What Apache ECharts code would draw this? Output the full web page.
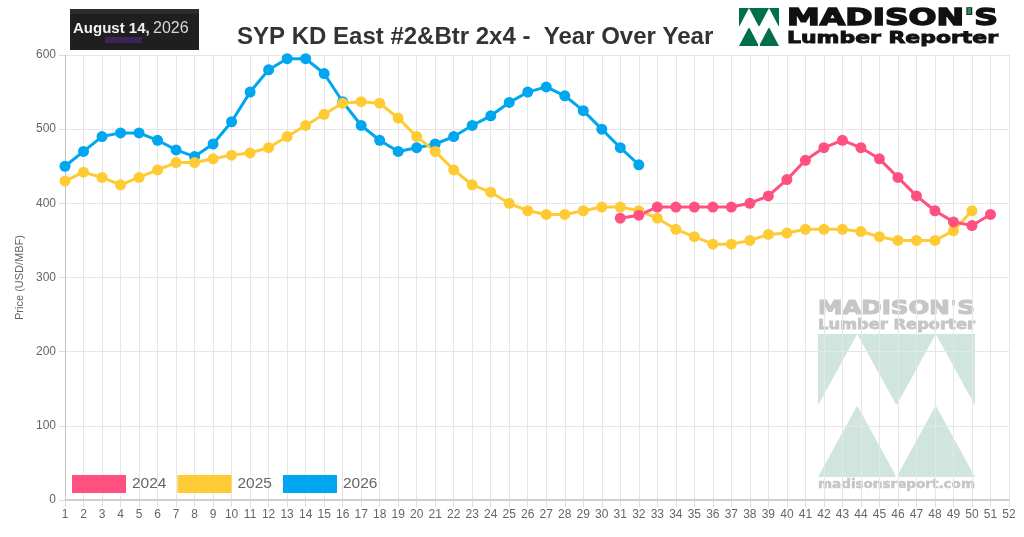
<!DOCTYPE html>
<html>
<head>
<meta charset="utf-8">
<script src="https://cdn.jsdelivr.net/npm/echarts@6/dist/echarts.min.js"></script>
<style>
  html, body { margin: 0; padding: 0; background: #fff; }
  #chart { width: 1024px; height: 537px; }
</style>
</head>
<body>
<div id="chart"></div>
<script>
// week numbers on the x axis
var weeks = [];
for (var w = 1; w <= 52; w++) weeks.push(String(w));

// prices (USD/MBF) per week; null = no data
var p2024 = [null,null,null,null,null,null,null,null,null,null,
             null,null,null,null,null,null,null,null,null,null,
             null,null,null,null,null,null,null,null,null,null,
             380,384,395,395,395,395,395,400,410,432,
             458,475,485,475,460,435,410,390,375,370,
             385,null];
var p2025 = [430,442,435,425,435,445,455,455,460,465,
             468,475,490,505,520,535,537,535,515,490,
             470,445,425,415,400,390,385,385,390,395,
             395,390,380,365,355,345,345,350,358,360,
             365,365,365,362,355,350,350,350,363,390,
             null,null];
var p2026 = [450,470,490,495,495,485,472,463,480,510,
             550,580,595,595,575,537,505,485,470,475,
             480,490,505,518,536,550,557,545,525,500,
             475,452];

var yTicks = [0, 100, 200, 300, 400, 500, 600];

var colors = {'2024': '#ff5080', '2025': '#ffcb35', '2026': '#00a6ef'};

// fit a text to a width by measuring it
var cv = document.createElement('canvas').getContext('2d');
function fitScale(txt, font, width){
    cv.font = font;
    return width / cv.measureText(txt).width;
}

// madison's triangle mark: green rect with white triangles on top, green triangles below
function mark(x0, y0, w, h, green){
    var hh = h / 2, q = w / 4;
    return [
        {type:'rect', shape:{x:x0, y:y0, width:w, height:hh}, style:{fill:green}},
        {type:'polygon', shape:{points:[[x0, y0+hh],[x0+q, y0],[x0+2*q, y0+hh]]}, style:{fill:'#fff'}},
        {type:'polygon', shape:{points:[[x0+2*q, y0+hh],[x0+3*q, y0],[x0+4*q, y0+hh]]}, style:{fill:'#fff'}},
        {type:'polygon', shape:{points:[[x0, y0+h],[x0+q, y0+hh],[x0+2*q, y0+h]]}, style:{fill:green}},
        {type:'polygon', shape:{points:[[x0+2*q, y0+h],[x0+3*q, y0+hh],[x0+4*q, y0+h]]}, style:{fill:green}},
        {type:'rect', shape:{x:x0, y:y0+hh-1, width:w, height:2}, style:{fill:'#fff'}},
        {type:'rect', shape:{x:x0+2*q-1, y:y0+hh, width:2, height:hh}, style:{fill:'#fff'}}
    ];
}

var bigFont = 'bold 20px "DejaVu Sans"';
var smallFont = 'bold 14px "DejaVu Sans"';

var graphics = [
    // date badge
    {type:'rect', shape:{x:70, y:9, width:129, height:41}, style:{fill:'#1f1f1f'}},
    {type:'rect', shape:{x:70, y:9, width:129, height:5}, style:{fill:'#2c2c2c'}},
    {type:'rect', shape:{x:105, y:37, width:37, height:6}, style:{fill:'#3d2456'}},
    {type:'text', x:73, y:29, style:{
        text:'{b|August 14,} {n|2026}', textVerticalAlign:'middle',
        rich:{ b:{font:'bold 15px "Liberation Sans"', fill:'#f2f2f2'},
               n:{font:'16px "Liberation Sans"', fill:'#d8d8d8'} }
    }},
    // title
    {type:'text', x:237, y:37, style:{
        text:'SYP KD East #2&Btr 2x4 -  Year Over Year',
        font:'bold 24px "Liberation Sans"', fill:'#333', textVerticalAlign:'middle'
    }}
];

// top right logo
graphics = graphics.concat(mark(739, 8, 40, 38, '#00704a'));
graphics.push({type:'text', x:787, y:8, scaleX:fitScale("MADISON'S", bigFont, 211), scaleY:1.15,
    style:{text:"{a|MADISON}{g|'}{a|S}", font:bigFont, stroke:'#111', lineWidth:1.2,
           rich:{a:{font:bigFont, fill:'#111', stroke:'#111', lineWidth:1.2},
                 g:{font:bigFont, fill:'#2e8b57'}}}});
graphics.push({type:'text', x:787, y:31, scaleX:fitScale('Lumber Reporter', smallFont, 211), scaleY:1.1,
    style:{text:'Lumber Reporter', font:smallFont, fill:'#111', stroke:'#111', lineWidth:0.8}});

// watermark
graphics.push({type:'text', x:818, y:299, scaleX:fitScale("MADISON'S", bigFont, 157), scaleY:1.0,
    style:{text:"{a|MADISON}{g|'}{a|S}", font:bigFont,
           rich:{a:{font:bigFont, fill:'#c6c6c6', stroke:'#c6c6c6', lineWidth:1.2},
                 g:{font:bigFont, fill:'#9fd3c4'}}}});
graphics.push({type:'text', x:818, y:319, scaleX:fitScale('Lumber Reporter', smallFont, 157), scaleY:0.95,
    style:{text:'Lumber Reporter', font:smallFont, fill:'#c6c6c6', stroke:'#c6c6c6', lineWidth:0.8}});
graphics = graphics.concat(mark(818, 334, 157, 143, '#cfe5de'));
graphics.push({type:'text', x:818, y:479, scaleX:fitScale('madisonsreport.com', smallFont, 157), scaleY:0.85,
    style:{text:'madisonsreport.com', font:smallFont, fill:'#c6c6c6', stroke:'#c6c6c6', lineWidth:0.6}});

function lineSeries(name, data){
    return {
        name: name,
        type: 'line',
        data: data,
        symbol: 'circle',
        symbolSize: 11,
        connectNulls: false,
        lineStyle: {width: 3, color: colors[name]},
        itemStyle: {color: colors[name], borderWidth: 0},
        emphasis: {disabled: true}
    };
}

var myChart = echarts.init(document.getElementById('chart'));
var option = {
    animation: false,
    backgroundColor: '#fff',
    grid: {left: 65, right: 15, top: 55, bottom: 37, containLabel: false},
    legend: {
        data: ['2024', '2025', '2026'],
        left: 72, top: 475,
        padding: 0,
        icon: 'rect',
        itemWidth: 54, itemHeight: 18,
        itemGap: 11,
        textStyle: {fontSize: 15.5, color: '#666', fontFamily: 'Liberation Sans', padding: [0, 0, 0, 1]}
    },
    xAxis: {
        type: 'category',
        data: weeks,
        boundaryGap: false,
        axisLine: {lineStyle: {color: '#c4c4c4', width: 1.5}},
        axisTick: {show: true, interval: 0, length: 7, lineStyle: {color: '#dcdcdc'}},
        axisLabel: {interval: 0, color: '#666', fontSize: 12, margin: 9, fontFamily: 'Liberation Sans'},
        splitLine: {show: true, interval: 0, lineStyle: {color: '#e6e6e6'}}
    },
    yAxis: {
        type: 'value',
        min: yTicks[0], max: yTicks[yTicks.length - 1], interval: 100,
        name: 'Price (USD/MBF)',
        nameLocation: 'middle',
        nameGap: 36,
        nameRotate: 90,
        nameTextStyle: {color: '#666', fontSize: 11, fontFamily: 'Liberation Sans'},
        axisLine: {show: true, lineStyle: {color: '#c4c4c4'}},
        axisTick: {show: true, length: 6, lineStyle: {color: '#dcdcdc'}},
        axisLabel: {color: '#666', fontSize: 12, margin: 9, fontFamily: 'Liberation Sans'},
        splitLine: {show: true, lineStyle: {color: '#e6e6e6'}}
    },
    graphic: graphics,
    // first year drawn last so it sits on top, like the original
    series: [
        lineSeries('2026', p2026),
        lineSeries('2025', p2025),
        lineSeries('2024', p2024)
    ]
};
myChart.setOption(option);
</script>
</body>
</html>
